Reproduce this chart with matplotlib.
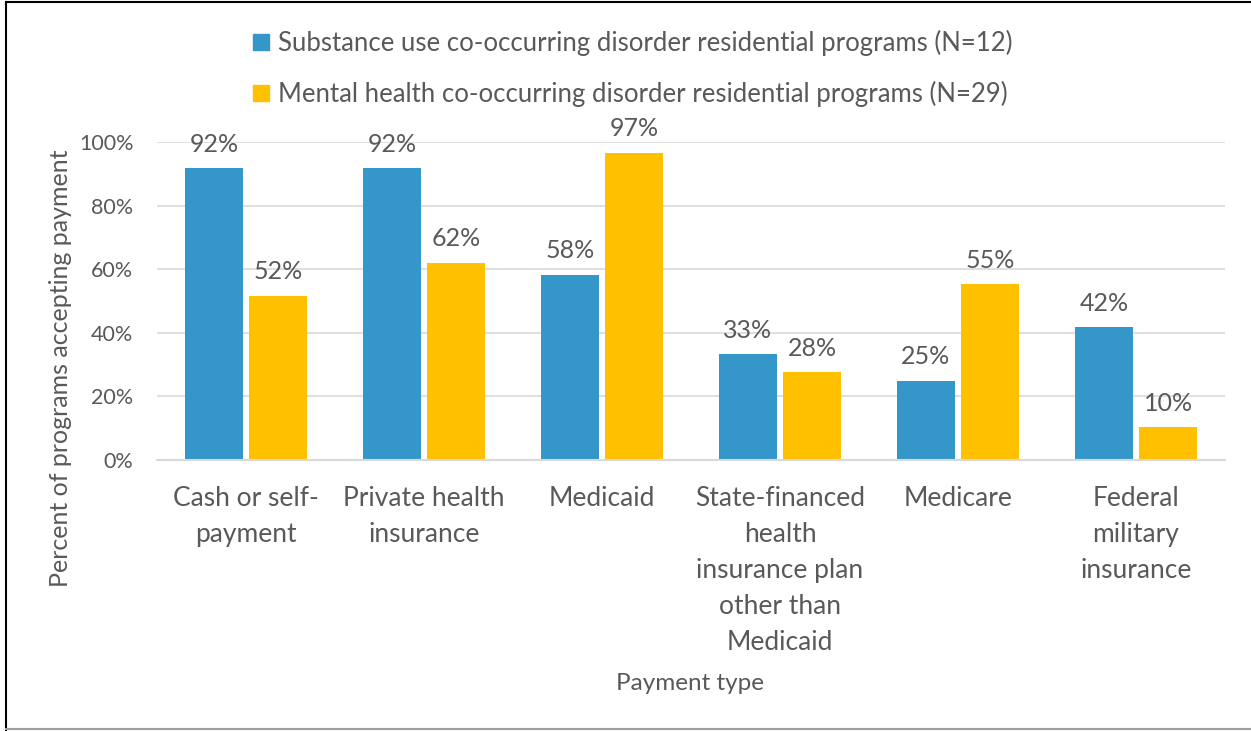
import matplotlib
matplotlib.use("Agg")
import matplotlib.pyplot as plt
import numpy as np
from matplotlib.patches import Rectangle
from matplotlib.lines import Line2D

categories = ["Cash or self-\npayment", "Private health\ninsurance", "Medicaid",
              "State-financed\nhealth\ninsurance plan\nother than\nMedicaid",
              "Medicare", "Federal\nmilitary\ninsurance"]
substance = [91.7, 91.7, 58.3, 33.3, 25.0, 41.7]
mental = [51.7, 62.1, 96.6, 27.6, 55.2, 10.3]
substance_labels = ["92%", "92%", "58%", "33%", "25%", "42%"]
mental_labels = ["52%", "62%", "97%", "28%", "55%", "10%"]
series_names = ["Substance use co-occurring disorder residential programs (N=12)",
                "Mental health co-occurring disorder residential programs (N=29)"]
yticks = [0, 20, 40, 60, 80, 100]
ytick_labels = ["0%", "20%", "40%", "60%", "80%", "100%"]

BLUE = "#3596CA"
YELLOW = "#FFC000"
TXT = "#595959"
FONT = "Lato"

plt.rcParams['font.family'] = [FONT, 'DejaVu Sans']

fig = plt.figure(figsize=(12.51, 7.31), dpi=100)
ax = fig.add_axes([157/1251, 1-460/731, (1225-157)/1251, (460-142)/731])

x = np.arange(len(categories))
w = 0.326
off = 0.18
b1 = ax.bar(x - off, substance, w, color=BLUE, zorder=3)
b2 = ax.bar(x + off, mental, w, color=YELLOW, zorder=3)
for bars, labs in ((b1, substance_labels), (b2, mental_labels)):
    for r, l in zip(bars, labs):
        ax.annotate(l, (r.get_x() + r.get_width()/2, r.get_height()),
                    xytext=(0, 9), textcoords="offset points",
                    ha="center", va="bottom", fontsize=18, color=TXT)

ax.set_xlim(-0.5, len(categories) - 0.5)
ax.set_ylim(0, 100)
ax.set_yticks(yticks)
ax.set_yticklabels(ytick_labels, fontsize=15.5, color=TXT)
ax.set_xticks(x)
ax.set_xticklabels(categories, fontsize=19, color=TXT, linespacing=1.55, va="top")
ax.tick_params(axis="both", length=0)
ax.tick_params(axis="x", pad=19)
ax.tick_params(axis="y", pad=17)
ax.grid(axis="y", color="#D9D9D9", linewidth=1.2, zorder=0)
for s in ("top", "right", "left"):
    ax.spines[s].set_visible(False)
ax.spines["bottom"].set_color("#D9D9D9")
ax.spines["bottom"].set_linewidth(1.5)
ax.spines["bottom"].set_zorder(4)

ax.set_ylabel("Percent of programs accepting payment", fontsize=18, color=TXT)
ax.yaxis.set_label_coords(-0.08, 0.29)
fig.text(690/1251, 1-683/731, "Payment type", ha="center", va="center",
         fontsize=17.5, color=TXT)

handles = [Rectangle((0, 0), 1, 1, color=BLUE), Rectangle((0, 0), 1, 1, color=YELLOW)]
fig.legend(handles, series_names, loc="upper left", bbox_to_anchor=(230/1251, 1-7/731),
           frameon=False, fontsize=18.5, labelcolor=TXT, handlelength=0.6,
           handleheight=0.6, handletextpad=0.35, labelspacing=0.95)

# outer border
fig.add_artist(Line2D([6/1251, 6/1251], [0, 1-2/731], transform=fig.transFigure, color="black", lw=1.5))
fig.add_artist(Line2D([6/1251, 1], [1-2/731, 1-2/731], transform=fig.transFigure, color="black", lw=1.5))
fig.add_artist(Line2D([6/1251, 1], [1-729/731, 1-729/731], transform=fig.transFigure, color="#A0A0A0", lw=1.5))

fig.savefig("out.png", dpi=100)
